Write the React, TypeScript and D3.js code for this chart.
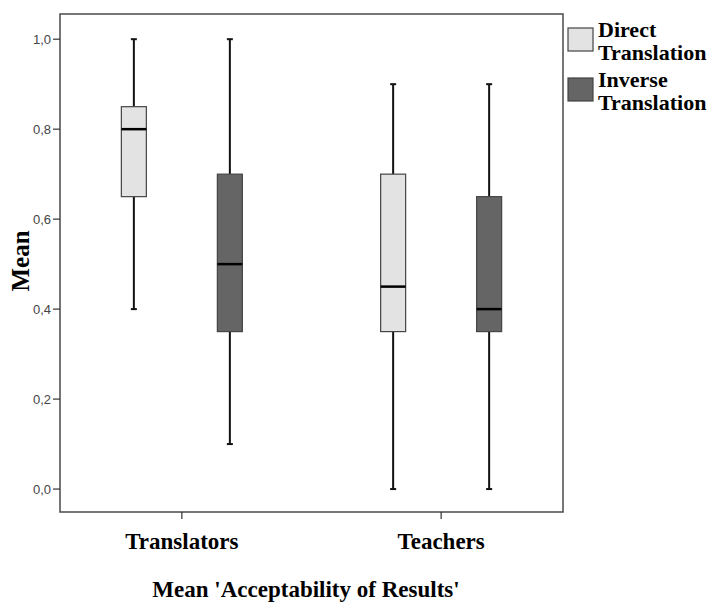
import { useRef, useEffect } from 'react';
import * as d3 from 'd3';

const groups = ['Translators', 'Teachers'];
const series = ['Direct Translation', 'Inverse Translation'];
const seriesLegend = [['Direct', 'Translation'], ['Inverse', 'Translation']];
const seriesColors = ['#e3e3e3', '#656565'];

// [min, q1, median, q3, max] per group, per series
const directStats = [
  [0.4, 0.65, 0.8, 0.85, 1.0],
  [0.0, 0.35, 0.45, 0.7, 0.9],
];
const inverseStats = [
  [0.1, 0.35, 0.5, 0.7, 1.0],
  [0.0, 0.35, 0.4, 0.65, 0.9],
];
const yTicks = [0, 0.2, 0.4, 0.6, 0.8, 1.0];

const App = () => {
  const ref = useRef<SVGSVGElement | null>(null);

  useEffect(() => {
    const svg = d3.select(ref.current);
    svg.selectAll('*').remove();

    const left = 60, right = 563, top = 14, bottom = 512;
    const serif = '"Liberation Serif", "Times New Roman", serif';
    const sans = '"Liberation Sans", Arial, sans-serif';

    const x = d3.scalePoint<string>().domain(groups).range([left, right]).padding(0.47);
    const xInner = d3.scalePoint<string>().domain(series).range([-48, 48]);
    const y = d3.scaleLinear().domain([-0.051, 1.056]).range([bottom, top]);
    const boxW = 25;

    // frame
    svg.append('rect')
      .attr('x', left).attr('y', top)
      .attr('width', right - left).attr('height', bottom - top)
      .attr('fill', 'none').attr('stroke', '#4a4a4a').attr('stroke-width', 1.5);

    // y axis
    const yAxis = svg.append('g');
    yTicks.forEach(t => {
      yAxis.append('line')
        .attr('x1', left - 7).attr('x2', left)
        .attr('y1', y(t)).attr('y2', y(t))
        .attr('stroke', '#333').attr('stroke-width', 1.2);
      yAxis.append('text')
        .attr('x', left - 9).attr('y', y(t))
        .attr('dy', '0.35em')
        .attr('text-anchor', 'end')
        .attr('font-family', sans).attr('font-size', 13)
        .attr('fill', '#444')
        .text(d3.format('.1f')(t).replace('.', ','));
    });

    svg.append('text')
      .attr('transform', `translate(29,261) rotate(-90)`)
      .attr('text-anchor', 'middle')
      .attr('font-family', serif).attr('font-size', 25).attr('font-weight', 'bold')
      .text('Mean');

    // x axis
    groups.forEach(g => {
      svg.append('line')
        .attr('x1', x(g)!).attr('x2', x(g)!)
        .attr('y1', bottom).attr('y2', bottom + 7)
        .attr('stroke', '#333').attr('stroke-width', 1.2);
      svg.append('text')
        .attr('x', x(g)!).attr('y', 549)
        .attr('text-anchor', 'middle')
        .attr('font-family', serif).attr('font-size', 23).attr('font-weight', 'bold')
        .text(g);
    });

    svg.append('text')
      .attr('x', 306).attr('y', 597)
      .attr('text-anchor', 'middle')
      .attr('font-family', serif).attr('font-size', 23).attr('font-weight', 'bold')
      .text("Mean 'Acceptability of Results'");

    // boxes
    const allStats = [directStats, inverseStats];
    series.forEach((s, si) => {
      groups.forEach((g, gi) => {
        const [mn, q1, med, q3, mx] = allStats[si][gi];
        const cx = x(g)! + xInner(s)!;
        const gr = svg.append('g');
        gr.append('line')
          .attr('x1', cx).attr('x2', cx).attr('y1', y(mx)).attr('y2', y(q3))
          .attr('stroke', '#111').attr('stroke-width', 2);
        gr.append('line')
          .attr('x1', cx).attr('x2', cx).attr('y1', y(q1)).attr('y2', y(mn))
          .attr('stroke', '#111').attr('stroke-width', 2);
        [mn, mx].forEach(v => {
          gr.append('line')
            .attr('x1', cx - 3).attr('x2', cx + 3).attr('y1', y(v)).attr('y2', y(v))
            .attr('stroke', '#111').attr('stroke-width', 2);
        });
        gr.append('rect')
          .attr('x', cx - boxW / 2).attr('y', y(q3))
          .attr('width', boxW).attr('height', y(q1) - y(q3))
          .attr('fill', seriesColors[si]).attr('stroke', '#444').attr('stroke-width', 1.2);
        gr.append('line')
          .attr('x1', cx - boxW / 2).attr('x2', cx + boxW / 2)
          .attr('y1', y(med)).attr('y2', y(med))
          .attr('stroke', '#000').attr('stroke-width', 2.5);
      });
    });

    // legend
    const legend = svg.append('g');
    series.forEach((s, i) => {
      const ly = 28 + i * 50;
      legend.append('rect')
        .attr('x', 568).attr('y', ly)
        .attr('width', 25).attr('height', 23)
        .attr('fill', seriesColors[i]).attr('stroke', '#444').attr('stroke-width', 1.2);
      seriesLegend[i].forEach((line, li) => {
        legend.append('text')
          .attr('x', 598).attr('y', ly + 9 + li * 23)
          .attr('font-family', serif).attr('font-size', 22).attr('font-weight', 'bold')
          .text(line);
      });
    });
  }, []);

  return <svg ref={ref} width={717} height={603} style={{ position: 'absolute', left: 0, top: 0 }} />;
};

export default App;
